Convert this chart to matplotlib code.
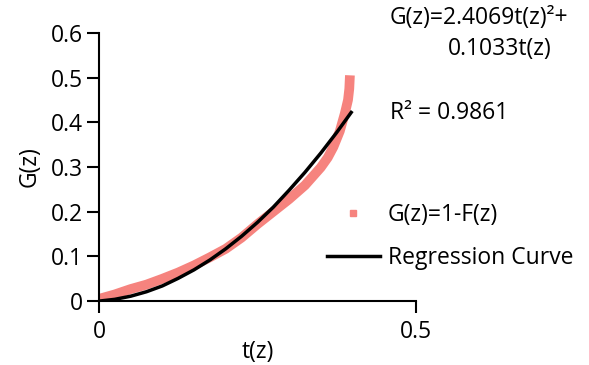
import matplotlib
matplotlib.use("Agg")
import matplotlib.pyplot as plt
from matplotlib.lines import Line2D

plt.rcParams['font.family'] = ['Open Sans', 'DejaVu Sans']

# G(z)=1-F(z) band
t_data = [0, 0.025, 0.05, 0.075, 0.1, 0.125, 0.15, 0.175, 0.2, 0.225, 0.25,
          0.275, 0.3, 0.325, 0.35, 0.361, 0.37, 0.38, 0.388, 0.393, 0.395, 0.396]
g_data = [0.005, 0.015, 0.027, 0.037, 0.050, 0.064, 0.080, 0.098, 0.117,
          0.142, 0.172, 0.200, 0.228, 0.259, 0.299, 0.321, 0.345, 0.38, 0.42,
          0.45, 0.475, 0.505]

# regression curve
t_fit = [0, 0.025, 0.05, 0.075, 0.1, 0.125, 0.15, 0.175, 0.2, 0.225, 0.25,
         0.275, 0.3, 0.325, 0.35, 0.375, 0.398]
g_fit = [0, 0.004, 0.011, 0.021, 0.034, 0.051, 0.070, 0.092, 0.117, 0.145,
         0.176, 0.210, 0.248, 0.288, 0.331, 0.377, 0.422]

x_ticks = [0, 0.5]
x_ticklabels = ['0', '0.5']
y_ticks = [0, 0.1, 0.2, 0.3, 0.4, 0.5, 0.6]
y_ticklabels = ['0', '0.1', '0.2', '0.3', '0.4', '0.5', '0.6']

red = '#f6837e'
fs = 16.5

fig = plt.figure(figsize=(5.89, 3.65), dpi=100)
ax = fig.add_axes([0.168, 0.175, 0.538, 0.735])

ax.plot(t_data, g_data, color=red, lw=7, solid_capstyle='butt', zorder=2)
ax.plot(t_fit, g_fit, color='black', lw=2.5, zorder=3)

ax.set_xlim(0, 0.5)
ax.set_ylim(0, 0.6)
ax.set_xticks(x_ticks)
ax.set_xticklabels(x_ticklabels)
ax.set_yticks(y_ticks)
ax.set_yticklabels(y_ticklabels)
ax.spines['top'].set_visible(False)
ax.spines['right'].set_visible(False)
for s in ['left', 'bottom']:
    ax.spines[s].set_linewidth(1.5)
ax.tick_params(direction='out', length=8.5, width=1.5, labelsize=fs)
ax.tick_params(axis='x', pad=5)
ax.tick_params(axis='y', pad=3)
ax.set_xlabel('t(z)', fontsize=fs, labelpad=-3)
ax.set_ylabel('G(z)', fontsize=fs, labelpad=7)

fig.text(0.662, 0.95, 'G(z)=2.4069t(z)²+', fontsize=fs, va='center', ha='left')
fig.text(0.760, 0.865, '0.1033t(z)', fontsize=fs, va='center', ha='left')
fig.text(0.662, 0.69, 'R² = 0.9861', fontsize=fs, va='center', ha='left')

handles = [Line2D([], [], color=red, marker='s', markersize=4.5, lw=0),
           Line2D([], [], color='black', lw=2.5)]
ax.legend(handles, ['G(z)=1-F(z)', 'Regression Curve'], fontsize=fs,
          frameon=False, loc='upper left', bbox_to_anchor=(0.555, 0.445),
          bbox_transform=fig.transFigure, handlelength=2.3, handletextpad=0.35,
          labelspacing=0.85, borderaxespad=0, borderpad=0)

fig.savefig('out.png', dpi=100)
